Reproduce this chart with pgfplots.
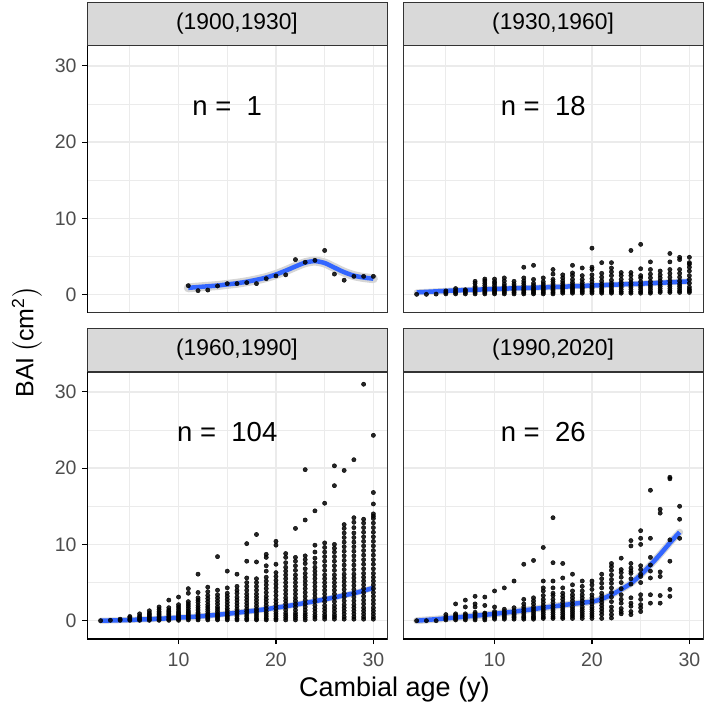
\documentclass[border=0pt]{standalone}
\usepackage{fontspec}
\setmainfont{Liberation Sans}
\usepackage{amsmath}
\usepackage{pgfplots}
\pgfplotsset{compat=1.18}
\definecolor{gridc}{RGB}{235,235,235}
\definecolor{borderc}{RGB}{51,51,51}
\definecolor{stripc}{RGB}{217,217,217}
\definecolor{tickc}{RGB}{77,77,77}
\definecolor{smoothc}{RGB}{51,102,255}
\definecolor{ribc}{RGB}{214,214,214}
\tikzset{nlab/.style={font=\fontsize{27.5}{28}\selectfont, text=black}}
\pgfplotsset{
 panel/.style={
  width=300pt, height=267pt, scale only axis,
  xmin=0.6, xmax=31.4, ymin=-2.4, ymax=32.6,
  xtick={10,20,30}, ytick={0,10,20,30},
  minor xtick={5,15,25}, minor ytick={5,15,25},
  xmajorgrids, ymajorgrids, xminorgrids, yminorgrids,
  major grid style={line width=1.4pt, draw=gridc},
  minor grid style={line width=0.8pt, draw=gridc},
  axis line style={line width=1pt, draw=borderc},
  tick align=outside, minor tick length=0pt, major tick length=5pt,
  xticklabels={}, yticklabels={},
  xtick pos=bottom, ytick pos=left,
  every tick/.style={black, line width=1.2pt},
  ticklabel style={font=\fontsize{19.5}{20}\selectfont, text=tickc},
  xticklabel style={yshift=-5pt},
  yticklabel style={xshift=-2pt},
  every axis title/.style={at={(0.5,1)}, anchor=south, fill=stripc, draw=borderc, line width=1pt, minimum width=300pt, minimum height=43pt, inner sep=0pt, font=\fontsize{22.8}{24}\selectfont, text=black},
 },
 pts/.style={only marks, mark=*, mark size=2.15pt, mark options={draw=none, fill=black, fill opacity=0.85}},
 rib/.style={no marks, smooth, line width=#1, ribc, line cap=round},
 fit/.style={no marks, smooth, line width=4.5pt, smoothc},
}
\begin{document}
\begin{tikzpicture}
\useasboundingbox (0pt,0pt) rectangle (707pt,-711pt);
% ---------------- (1900,1930]
\begin{axis}[panel, at={(87pt,-46pt)}, anchor=north west, title={(1900,1930]},
  yticklabels={0,10,20,30}, xtick style={draw=none}]
\addplot[rib=9pt] coordinates {(11,0.9)(12,1.0)(13,1.1)(14,1.2)(15,1.35)(16,1.5)(17,1.7)(18,1.95)(19,2.25)(20,2.65)(21,3.15)(22,3.7)(23,4.2)(24,4.4)(25,4.15)(26,3.55)(27,2.95)(28,2.5)(29,2.25)(30,2.1)};
\addplot[fit] coordinates {(11,0.9)(12,1.0)(13,1.1)(14,1.2)(15,1.35)(16,1.5)(17,1.7)(18,1.95)(19,2.25)(20,2.65)(21,3.15)(22,3.7)(23,4.2)(24,4.4)(25,4.15)(26,3.55)(27,2.95)(28,2.5)(29,2.25)(30,2.1)};
\addplot[pts] coordinates {(11,1.18)(12,0.53)(13,0.61)(14,1.14)(15,1.45)(16,1.45)(17,1.58)(18,1.45)(19,2.1)(20,2.46)(21,2.6)(22,4.6)(23,4.25)(24,4.5)(25,5.8)(26,2.7)(27,1.9)(28,2.4)(29,2.4)(30,2.4)};
\node[nlab] at (axis cs:15,24.7) {n =\ \ 1};
\draw[black, line width=1.6pt] (rel axis cs:0,0) -- (rel axis cs:0,1);
\end{axis}
% ---------------- (1930,1960]
\begin{axis}[panel, at={(403pt,-46pt)}, anchor=north west, title={(1930,1960]},
  xtick style={draw=none}, ytick style={draw=none}]
\addplot[rib=6pt] coordinates {(2,0.3)(5,0.5)(9,0.7)(13,0.88)(16,1.0)(20,1.2)(23,1.35)(26,1.5)(30,1.75)};
\addplot[fit] coordinates {(2,0.3)(5,0.5)(9,0.7)(13,0.88)(16,1.0)(20,1.2)(23,1.35)(26,1.5)(30,1.75)};
\addplot[pts] coordinates {
(2,0.05)(3,0.05)(4,0.08)
(5,0.1)(5,0.3)(5,0.5)
(6,0.1)(6,0.3)(6,0.5)(6,0.8)
(7,0.1)(7,0.3)(7,0.5)(7,0.65)
(8,0.1)(8,0.3)(8,0.5)(8,0.7)(8,0.9)(8,1.1)(8,1.5)(8,1.75)
(9,0.1)(9,0.3)(9,0.5)(9,0.7)(9,0.9)(9,1.2)(9,1.5)(9,1.8)(9,2.05)
(10,0.1)(10,0.3)(10,0.5)(10,0.7)(10,0.9)(10,1.2)(10,1.5)(10,1.7)(10,2.05)
(11,0.1)(11,0.3)(11,0.5)(11,0.7)(11,0.9)(11,1.1)(11,1.4)(11,1.8)(11,2.2)
(12,0.1)(12,0.3)(12,0.5)(12,0.7)(12,0.9)(12,1.1)(12,1.4)(12,1.75)
(13,0.1)(13,0.3)(13,0.5)(13,0.7)(13,0.9)(13,1.2)(13,1.5)(13,1.8)(13,2.2)(13,3.6)
(14,0.1)(14,0.3)(14,0.5)(14,0.7)(14,0.9)(14,1.2)(14,1.5)(14,2.0)(14,3.85)
(15,0.1)(15,0.3)(15,0.5)(15,0.7)(15,0.9)(15,1.1)(15,1.4)(15,1.7)(15,2.2)
(16,0.1)(16,0.3)(16,0.5)(16,0.7)(16,0.9)(16,1.1)(16,1.4)(16,1.7)(16,2.0)(16,2.7)(16,3.3)
(17,0.2)(17,0.4)(17,0.6)(17,0.8)(17,1.0)(17,1.2)(17,1.5)(17,1.8)(17,2.2)(17,2.6)
(18,0.2)(18,0.4)(18,0.6)(18,0.8)(18,1.0)(18,1.3)(18,1.6)(18,2.0)(18,2.5)(18,2.85)(18,3.85)
(19,0.2)(19,0.4)(19,0.6)(19,0.8)(19,1.0)(19,1.3)(19,1.6)(19,2.0)(19,2.5)(19,3.5)
(20,0.2)(20,0.4)(20,0.6)(20,0.8)(20,1.0)(20,1.3)(20,1.7)(20,2.1)(20,2.6)(20,3.3)(20,3.6)(20,6.1)
(21,0.2)(21,0.4)(21,0.6)(21,0.8)(21,1.1)(21,1.4)(21,1.8)(21,2.3)(21,2.8)(21,4.2)
(22,0.2)(22,0.4)(22,0.6)(22,0.9)(22,1.2)(22,1.5)(22,1.9)(22,2.5)(22,3.0)(22,3.5)(22,4.2)
(23,0.2)(23,0.4)(23,0.7)(23,1.0)(23,1.3)(23,1.6)(23,2.0)(23,2.5)(23,2.9)
(24,0.2)(24,0.4)(24,0.7)(24,1.0)(24,1.3)(24,1.6)(24,2.0)(24,2.5)(24,2.9)(24,5.8)
(25,0.2)(25,0.4)(25,0.7)(25,1.0)(25,1.3)(25,1.7)(25,2.2)(25,2.5)(25,3.4)(25,6.6)
(26,0.2)(26,0.4)(26,0.7)(26,1.0)(26,1.3)(26,1.7)(26,2.2)(26,2.7)(26,3.3)(26,4.3)
(27,0.3)(27,0.5)(27,0.8)(27,1.1)(27,1.4)(27,1.8)(27,2.2)(27,2.6)(27,3.1)
(28,0.3)(28,0.5)(28,0.8)(28,1.1)(28,1.4)(28,1.8)(28,2.3)(28,2.8)(28,3.3)(28,4.3)(28,5.4)
(29,0.3)(29,0.5)(29,0.8)(29,1.1)(29,1.4)(29,1.8)(29,2.3)(29,2.8)(29,3.3)(29,4.6)(29,4.9)
(30,0.3)(30,0.5)(30,0.7)(30,1.0)(30,1.5)(30,2.0)(30,2.5)(30,3.1)(30,3.6)(30,4.0)(30,4.2)(30,4.9)
};
\node[nlab] at (axis cs:15,24.7) {n =\ \ 18};
\end{axis}
% ---------------- (1960,1990]
\begin{axis}[panel, at={(87pt,-372pt)}, anchor=north west, title={(1960,1990]},
  yticklabels={0,10,20,30}, xticklabels={10,20,30}]
\addplot[rib=6pt] coordinates {(2,0.0)(5,0.1)(8,0.25)(10,0.4)(12,0.55)(15,0.9)(18,1.35)(20,1.7)(22,2.1)(25,2.8)(28,3.6)(30,4.3)};
\addplot[fit] coordinates {(2,0.0)(5,0.1)(8,0.25)(10,0.4)(12,0.55)(15,0.9)(18,1.35)(20,1.7)(22,2.1)(25,2.8)(28,3.6)(30,4.3)};
\addplot[pts] coordinates {
(2,0.0)(3,0.05)(4,0.05)(4,0.2)
(5,0.05)(5,0.2)(5,0.4)(5,0.55)
(6,0.05)(6,0.2)(6,0.4)(6,0.6)(6,0.9)
(7,0.05)(7,0.2)(7,0.4)(7,0.6)(7,0.8)(7,1.0)(7,1.3)
(8,0.05)(8,0.2)(8,0.4)(8,0.6)(8,0.8)(8,1.0)(8,1.2)(8,1.5)(8,1.8)
(9,0.05)(9,0.2)(9,0.4)(9,0.6)(9,0.8)(9,1.0)(9,1.2)(9,1.4)(9,1.7)(9,2.7)
(10,0.05)(10,0.2)(10,0.4)(10,0.6)(10,0.8)(10,1.0)(10,1.2)(10,1.5)(10,1.8)(10,2.1)(10,3.1)
(11,0.1)(11,0.3)(11,0.5)(11,0.7)(11,0.9)(11,1.1)(11,1.3)(11,1.6)(11,1.9)(11,2.2)(11,2.5)(11,3.6)(11,4.2)
(12,0.1)(12,0.3)(12,0.5)(12,0.7)(12,0.9)(12,1.1)(12,1.4)(12,1.7)(12,2.0)(12,2.4)(12,2.7)(12,3.0)(12,3.7)(12,6.1)
(13,0.1)(13,0.3)(13,0.5)(13,0.7)(13,0.9)(13,1.2)(13,1.5)(13,1.8)(13,2.1)(13,2.5)(13,2.9)(13,3.3)(13,3.8)(13,4.4)
(14,0.1)(14,0.3)(14,0.5)(14,0.7)(14,0.9)(14,1.2)(14,1.5)(14,1.8)(14,2.2)(14,2.6)(14,3.0)(14,3.4)(14,4.0)(14,8.4)
(15,0.1)(15,0.3)(15,0.5)(15,0.7)(15,1.0)(15,1.3)(15,1.6)(15,2.0)(15,2.4)(15,2.8)(15,3.2)(15,3.6)(15,4.3)(15,6.5)
(16,0.1)(16,0.3)(16,0.6)(16,0.9)(16,1.2)(16,1.5)(16,1.9)(16,2.3)(16,2.7)(16,3.1)(16,3.6)(16,4.0)(16,4.5)(16,6.1)
(17,0.1)(17,0.3)(17,0.6)(17,0.9)(17,1.2)(17,1.5)(17,1.9)(17,2.3)(17,2.7)(17,3.1)(17,3.5)(17,4.0)(17,4.5)(17,5.0)(17,5.6)(17,7.8)(17,10.1)
(18,0.1)(18,0.3)(18,0.6)(18,0.9)(18,1.2)(18,1.5)(18,1.9)(18,2.3)(18,2.7)(18,3.1)(18,3.5)(18,4.0)(18,4.5)(18,5.0)(18,5.5)(18,7.7)(18,11.3)
(19,0.1)(19,0.3)(19,0.6)(19,0.9)(19,1.2)(19,1.6)(19,2.0)(19,2.4)(19,2.8)(19,3.2)(19,3.7)(19,4.2)(19,4.7)(19,5.2)(19,5.7)(19,6.5)(19,7.2)(19,8.3)(19,8.7)
(20,0.1)(20,0.3)(20,0.6)(20,0.9)(20,1.2)(20,1.6)(20,2.0)(20,2.4)(20,2.8)(20,3.3)(20,3.8)(20,4.3)(20,4.8)(20,5.3)(20,5.8)(20,6.3)(20,7.4)(20,9.9)(20,10.4)
(21,0.1)(21,0.4)(21,0.7)(21,1.0)(21,1.4)(21,1.8)(21,2.2)(21,2.6)(21,3.0)(21,3.5)(21,4.0)(21,4.5)(21,5.0)(21,5.5)(21,6.0)(21,6.5)(21,7.0)(21,7.6)(21,8.3)(21,8.8)
(22,0.1)(22,0.4)(22,0.7)(22,1.0)(22,1.4)(22,1.8)(22,2.2)(22,2.6)(22,3.0)(22,3.5)(22,4.0)(22,4.5)(22,5.0)(22,5.5)(22,6.0)(22,6.6)(22,7.2)(22,7.8)(22,8.3)(22,12.1)
(23,0.1)(23,0.4)(23,0.7)(23,1.0)(23,1.4)(23,1.8)(23,2.2)(23,2.7)(23,3.2)(23,3.7)(23,4.2)(23,4.7)(23,5.2)(23,5.7)(23,6.2)(23,6.8)(23,7.5)(23,8.0)(23,8.5)(23,13.2)(23,19.8)
(24,0.2)(24,0.5)(24,0.8)(24,1.2)(24,1.6)(24,2.0)(24,2.5)(24,3.0)(24,3.5)(24,4.0)(24,4.5)(24,5.0)(24,5.5)(24,6.0)(24,6.5)(24,7.0)(24,7.6)(24,8.2)(24,9.0)(24,9.9)(24,14.4)
(25,0.2)(25,0.5)(25,0.8)(25,1.2)(25,1.6)(25,2.0)(25,2.5)(25,3.0)(25,3.5)(25,4.0)(25,4.5)(25,5.0)(25,5.5)(25,6.0)(25,6.6)(25,7.2)(25,7.8)(25,8.4)(25,9.0)(25,9.6)(25,10.2)(25,15.4)
(26,0.2)(26,0.5)(26,0.8)(26,1.2)(26,1.6)(26,2.0)(26,2.5)(26,3.0)(26,3.5)(26,4.0)(26,4.5)(26,5.0)(26,5.5)(26,6.0)(26,6.6)(26,7.2)(26,7.8)(26,8.4)(26,9.0)(26,9.5)(26,10.0)(26,17.7)(26,20.3)
(27,0.2)(27,0.5)(27,0.9)(27,1.3)(27,1.7)(27,2.1)(27,2.6)(27,3.1)(27,3.6)(27,4.1)(27,4.6)(27,5.1)(27,5.6)(27,6.1)(27,6.7)(27,7.3)(27,7.9)(27,8.5)(27,9.1)(27,9.7)(27,10.3)(27,10.9)(27,11.5)(27,12.1)(27,12.6)(27,19.7)
(28,0.2)(28,0.5)(28,0.9)(28,1.3)(28,1.7)(28,2.1)(28,2.6)(28,3.1)(28,3.6)(28,4.1)(28,4.6)(28,5.1)(28,5.6)(28,6.1)(28,6.7)(28,7.3)(28,7.9)(28,8.5)(28,9.1)(28,9.7)(28,10.3)(28,10.9)(28,11.5)(28,12.2)(28,12.9)(28,13.5)(28,21.1)
(29,0.2)(29,0.5)(29,0.9)(29,1.3)(29,1.7)(29,2.2)(29,2.7)(29,3.2)(29,3.7)(29,4.2)(29,4.7)(29,5.2)(29,5.7)(29,6.2)(29,6.8)(29,7.4)(29,8.0)(29,8.6)(29,9.2)(29,9.8)(29,10.4)(29,11.0)(29,11.6)(29,12.2)(29,12.8)(29,13.3)(29,31.0)
(30,0.2)(30,0.5)(30,0.9)(30,1.3)(30,1.7)(30,2.2)(30,2.7)(30,3.2)(30,3.7)(30,4.2)(30,4.7)(30,5.2)(30,5.7)(30,6.2)(30,6.8)(30,7.4)(30,8.0)(30,8.6)(30,9.2)(30,9.8)(30,10.4)(30,11.0)(30,11.6)(30,12.2)(30,12.8)(30,13.4)(30,13.7)(30,14.0)(30,15.3)(30,16.8)(30,24.3)
};
\node[nlab] at (axis cs:15,24.7) {n =\ \ 104};
\draw[black, line width=1.6pt] (rel axis cs:0,0) -- (rel axis cs:0,1);
\draw[black, line width=1.6pt] (rel axis cs:0,0) -- (rel axis cs:1,0);
\end{axis}
% ---------------- (1990,2020]
\begin{axis}[panel, at={(403pt,-372pt)}, anchor=north west, title={(1990,2020]},
  xticklabels={10,20,30}, ytick style={draw=none}]
\addplot[rib=7pt] coordinates {(2,0.0)(5,0.3)(8,0.65)(10,0.9)(13,1.35)(15,1.7)(18,2.2)(20,2.5)(21,2.85)(22,3.4)(23,4.1)(24,4.9)(25,6.0)(26,7.3)(27,8.7)(28,10.2)(29,11.6)};
\addplot[fit] coordinates {(2,0.0)(5,0.3)(8,0.65)(10,0.9)(13,1.35)(15,1.7)(18,2.2)(20,2.5)(21,2.85)(22,3.4)(23,4.1)(24,4.9)(25,6.0)(26,7.3)(27,8.7)(28,10.2)(29,11.6)};
\addplot[pts] coordinates {
(2,0.0)(3,0.0)(4,0.0)
(5,0.1)(5,0.3)(5,0.5)(5,0.8)
(6,0.1)(6,0.3)(6,0.5)(6,0.7)(6,0.9)(6,2.2)
(7,0.1)(7,0.3)(7,0.5)(7,0.7)(7,0.9)(7,1.8)(7,2.7)
(8,0.1)(8,0.3)(8,0.5)(8,0.7)(8,0.9)(8,1.1)(8,1.8)(8,2.2)(8,3.2)
(9,0.1)(9,0.3)(9,0.5)(9,0.7)(9,0.9)(9,1.0)(9,2.0)(9,3.1)
(10,0.2)(10,0.4)(10,0.6)(10,0.8)(10,1.0)(10,1.2)(10,1.8)(10,3.9)
(11,0.2)(11,0.4)(11,0.6)(11,0.8)(11,1.0)(11,1.2)(11,1.5)(11,4.3)
(12,0.2)(12,0.4)(12,0.6)(12,0.8)(12,1.0)(12,1.3)(12,1.7)(12,5.2)
(13,0.2)(13,0.4)(13,0.6)(13,0.9)(13,1.2)(13,1.5)(13,1.8)(13,2.2)(13,2.8)(13,7.4)
(14,0.2)(14,0.4)(14,0.6)(14,0.9)(14,1.2)(14,1.5)(14,1.8)(14,2.2)(14,2.6)(14,3.0)(14,7.9)
(15,0.3)(15,0.5)(15,0.8)(15,1.1)(15,1.4)(15,1.7)(15,2.0)(15,2.4)(15,2.8)(15,3.3)(15,3.9)(15,4.3)(15,5.2)(15,9.6)
(16,0.3)(16,0.5)(16,0.8)(16,1.1)(16,1.4)(16,1.7)(16,2.0)(16,2.4)(16,2.8)(16,3.3)(16,3.6)(16,4.3)(16,5.2)(16,7.6)(16,13.5)
(17,0.3)(17,0.5)(17,0.8)(17,1.1)(17,1.4)(17,1.7)(17,2.0)(17,2.4)(17,2.8)(17,3.2)(17,3.6)(17,4.3)(17,5.6)(17,7.5)
(18,0.3)(18,0.6)(18,0.9)(18,1.2)(18,1.5)(18,1.8)(18,2.2)(18,2.6)(18,3.0)(18,3.4)(18,3.9)(18,4.7)(18,6.1)
(19,0.3)(19,0.6)(19,0.9)(19,1.2)(19,1.5)(19,1.8)(19,2.2)(19,2.6)(19,3.0)(19,3.4)(19,3.9)(19,4.5)(19,5.2)
(20,0.3)(20,0.6)(20,0.9)(20,1.2)(20,1.5)(20,1.8)(20,2.2)(20,2.6)(20,3.0)(20,3.4)(20,4.1)(20,4.7)(20,5.2)
(21,0.3)(21,0.8)(21,1.2)(21,1.6)(21,2.0)(21,2.4)(21,2.8)(21,3.2)(21,3.6)(21,4.3)(21,4.9)(21,5.5)(21,6.1)
(22,0.35)(22,0.8)(22,1.3)(22,1.8)(22,2.5)(22,3.1)(22,3.7)(22,4.3)(22,4.9)(22,5.4)(22,6.0)(22,6.6)(22,7.1)(22,7.5)
(23,0.9)(23,1.2)(23,1.6)(23,2.3)(23,2.8)(23,3.4)(23,4.2)(23,5.0)(23,5.7)(23,6.3)(23,6.7)(23,8.2)
(24,0.8)(24,1.2)(24,1.9)(24,2.3)(24,3.0)(24,4.8)(24,5.5)(24,6.2)(24,6.5)(24,6.9)(24,7.5)(24,9.8)(24,10.5)
(25,1.2)(25,1.7)(25,2.1)(25,2.8)(25,3.4)(25,5.0)(25,5.8)(25,6.1)(25,6.7)(25,7.2)(25,10.0)(25,10.8)(25,11.8)
(26,2.3)(26,3.4)(26,5.6)(26,6.5)(26,7.3)(26,8.3)(26,10.8)(26,17.1)
(27,2.3)(27,3.3)(27,5.8)(27,6.4)(27,14.1)(27,14.6)
(28,3.2)(28,4.1)(28,7.8)(28,10.6)(28,18.6)(28,18.8)
(29,10.8)(29,13.3)(29,15.0)
};
\node[nlab] at (axis cs:15,24.7) {n =\ \ 26};
\draw[black, line width=1.6pt] (rel axis cs:0,0) -- (rel axis cs:1,0);
\end{axis}
\node[rotate=90, font=\fontsize{25}{26}\selectfont] at (27pt,-342pt) {BAI\,$\left(\text{cm}^{\text{2}}\right)$};
\node[font=\fontsize{27}{28}\selectfont] at (394.5pt,-690pt) {Cambial age (y)};
\end{tikzpicture}
\end{document}
